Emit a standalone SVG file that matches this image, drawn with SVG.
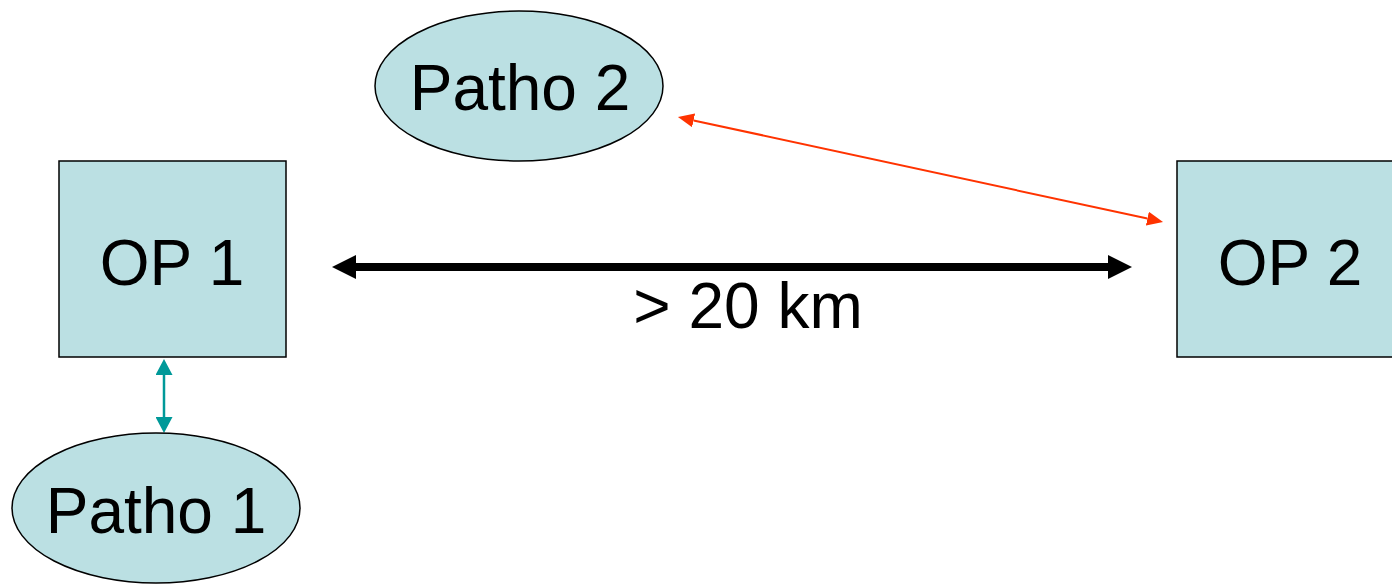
<svg xmlns="http://www.w3.org/2000/svg" width="1392" height="584" viewBox="0 0 1392 584">
<style>
.node{fill:#BBE0E3;stroke:#000;stroke-width:1.5}
.t{font-family:"Liberation Sans",Arial,sans-serif;font-size:64px;fill:#000;text-anchor:middle}
</style>
<defs>
<marker id="blk" viewBox="0 0 24 24" refX="0" refY="12" markerWidth="24" markerHeight="24" orient="auto-start-reverse" markerUnits="userSpaceOnUse"><path d="M0,0L24,12L0,24z" fill="#000"/></marker>
<marker id="teal" viewBox="0 0 16 17" refX="0" refY="8.5" markerWidth="16" markerHeight="17" orient="auto-start-reverse" markerUnits="userSpaceOnUse"><path d="M0,0L16,8.5L0,17z" fill="#009999"/></marker>
<marker id="red" viewBox="0 0 16 14" refX="0" refY="7" markerWidth="16" markerHeight="14" orient="auto-start-reverse" markerUnits="userSpaceOnUse"><path d="M0,0L16,7L0,14z" fill="#FF3300"/></marker>
</defs>
<rect width="1392" height="584" fill="#fff"/>
<g id="connectors">
<line x1="356" y1="267" x2="1108" y2="267" stroke="#000" stroke-width="8" marker-start="url(#blk)" marker-end="url(#blk)"/>
<line x1="164" y1="375" x2="164" y2="417" stroke="#009999" stroke-width="2.5" marker-start="url(#teal)" marker-end="url(#teal)"/>
<line x1="693.6" y1="120.4" x2="1147.4" y2="218.6" stroke="#FF3300" stroke-width="2" marker-start="url(#red)" marker-end="url(#red)"/>
</g>
<g id="op1">
<rect class="node" x="59" y="161" width="227" height="196"/>
<text class="t" x="172" y="285">OP 1</text>
</g>
<g id="op2">
<rect class="node" x="1177" y="161" width="227" height="196"/>
<text class="t" x="1290" y="285">OP 2</text>
</g>
<g id="patho2">
<ellipse class="node" cx="519" cy="86" rx="144" ry="75"/>
<text class="t" x="520" y="110">Patho 2</text>
</g>
<g id="patho1">
<ellipse class="node" cx="156" cy="508" rx="144" ry="75"/>
<text class="t" x="156" y="533">Patho 1</text>
</g>
<g id="label">
<text class="t" x="748" y="328">&gt; 20 km</text>
</g>
</svg>
